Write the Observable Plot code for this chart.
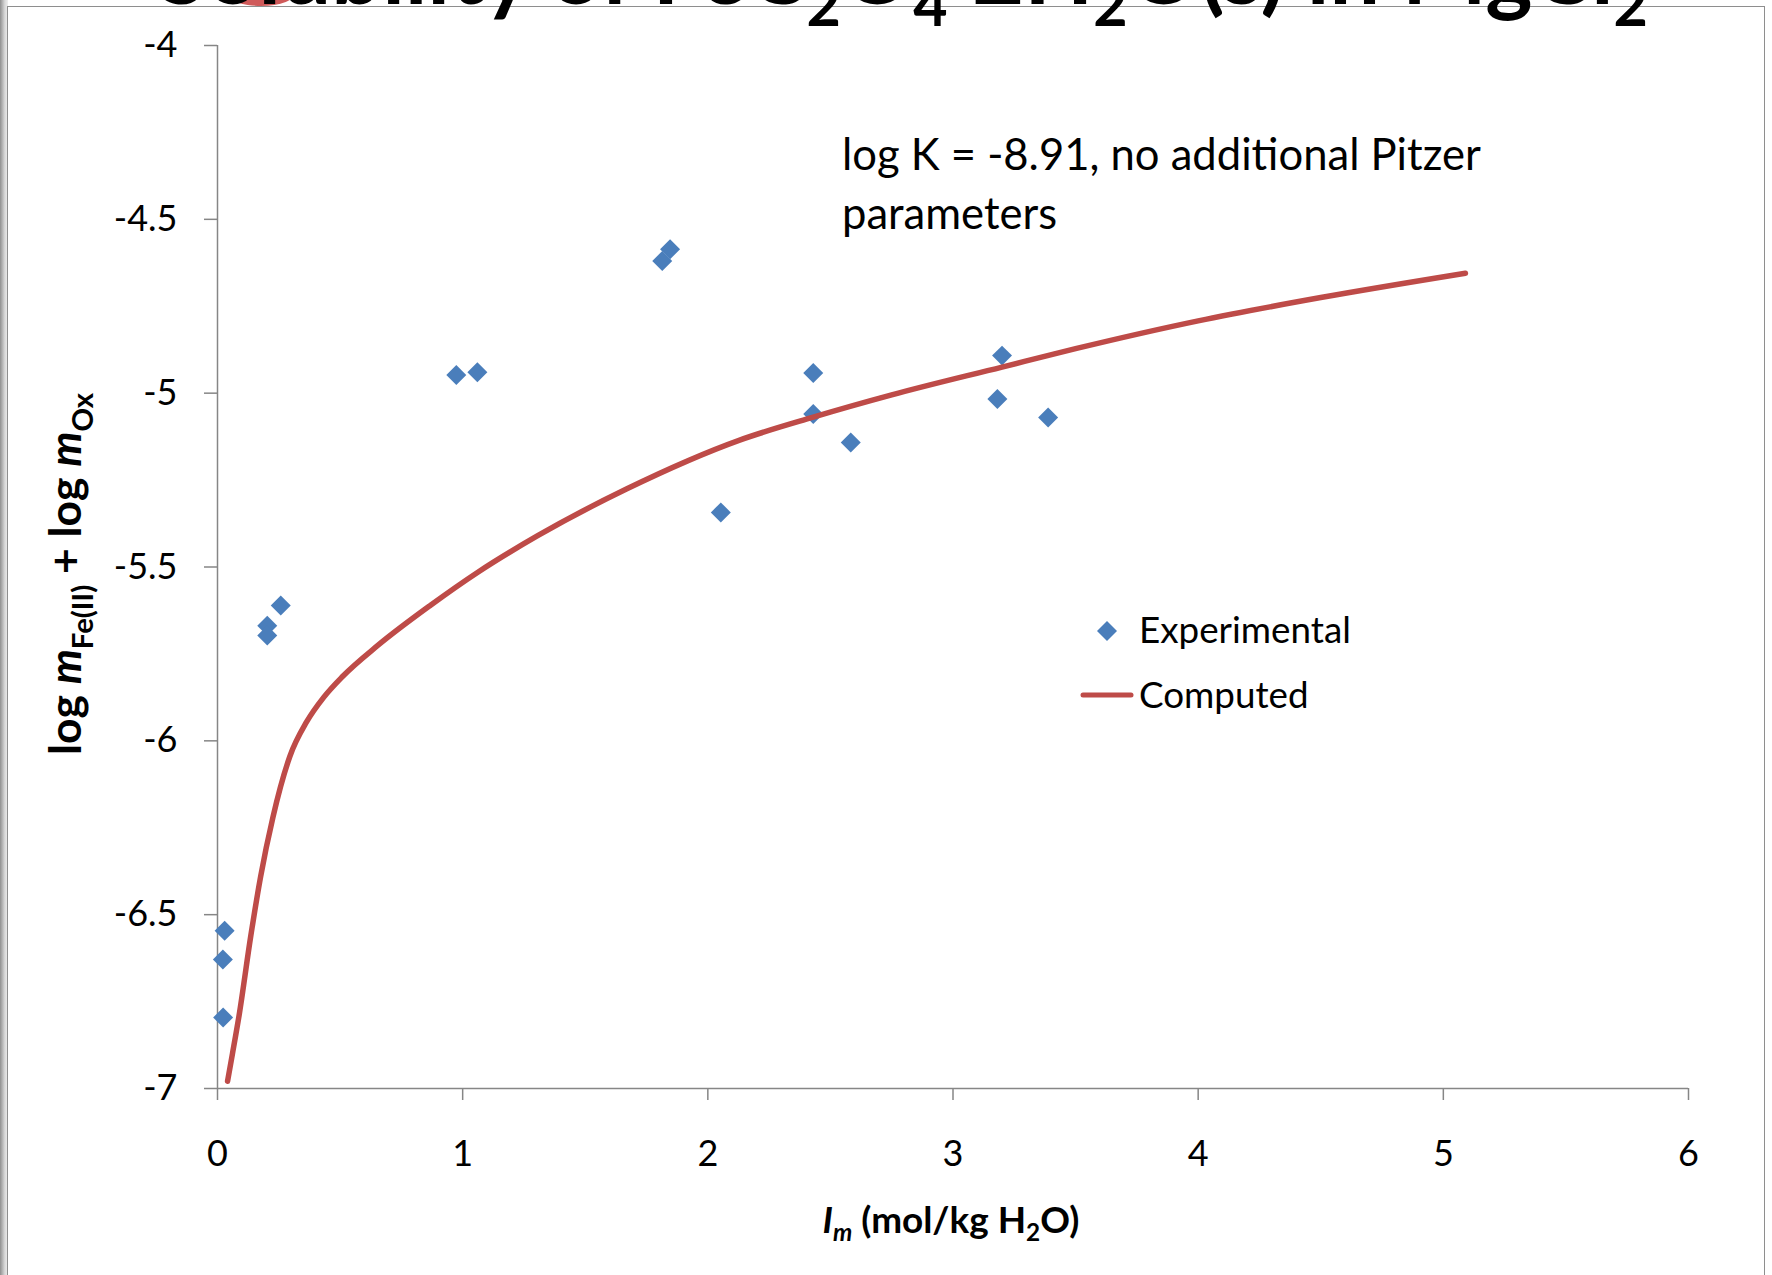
<!DOCTYPE html>
<html>
<head>
<meta charset="utf-8">
<script src="https://cdn.jsdelivr.net/npm/d3@7"></script>
<script src="https://cdn.jsdelivr.net/npm/@observablehq/plot@0.6"></script>
<style>
  html, body { margin: 0; padding: 0; background: #fff; }
  #wrap { position: relative; width: 1772px; height: 1275px; overflow: hidden; font-family: Lato, "Open Sans", sans-serif; background: #fff; }
  #leftstrip { position: absolute; left: 0; top: 0; width: 8px; height: 1275px; background: linear-gradient(to right, #8f8f8f, #d8d8d8 60%, #eeeeee); }
  #blob { position: absolute; left: 226px; top: -22px; width: 70px; height: 28px; border-radius: 50%; background: #cf5a5a; }
  #frame { position: absolute; left: 7px; top: 6px; width: 1756px; height: 1400px; border: 1.5px solid #8e8e8e; background: #fff; }
  #chart { position: absolute; left: 0; top: 0; }
  #over { position: absolute; left: 0; top: 0; }
</style>
</head>
<body>
<div id="wrap">
  <div id="leftstrip"></div>
  <div id="blob"></div>
  <div id="frame"></div>
  <div id="chart"></div>
</div>
<script>
// ---------------- data ----------------
const expI   = [0.029, 0.022, 0.023, 0.203, 0.203, 0.258, 0.974, 1.060, 1.814, 1.846, 2.053, 2.430, 2.430, 2.583, 3.181, 3.200, 3.388];
const expLog = [-6.546, -6.629, -6.796, -5.669, -5.697, -5.611, -4.948, -4.940, -4.620, -4.586, -5.343, -4.942, -5.060, -5.142, -5.017, -4.892, -5.070];

const calcI   = [0.041, 0.061, 0.088, 0.136, 0.176, 0.226, 0.295, 0.364, 0.433, 0.510, 0.655, 0.869, 1.062, 1.306, 1.670, 2.130, 2.430, 2.750, 3.200, 3.500, 4.000, 4.500, 5.090];
const calcLog = [-6.979, -6.900, -6.790, -6.560, -6.390, -6.220, -6.045, -5.945, -5.875, -5.815, -5.725, -5.610, -5.515, -5.410, -5.275, -5.135, -5.069, -5.005, -4.925, -4.872, -4.792, -4.725, -4.655];

const xTicks = [0, 1, 2, 3, 4, 5, 6];
const xTickLabels = ["0", "1", "2", "3", "4", "5", "6"];
const yTicks = [-7, -6.5, -6, -5.5, -5, -4.5, -4];
const yTickLabels = ["-7", "-6.5", "-6", "-5.5", "-5", "-4.5", "-4"];

const seriesNames = ["Experimental", "Computed"];
const noteLines = ["log K = -8.91, no additional Pitzer", "parameters"];

const expData = expI.map((v, i) => ({I: v, logm: expLog[i]}));
const calcData = calcI.map((v, i) => ({I: v, logm: calcLog[i]}));

// ---------------- chart ----------------
const axisGray = "#868686";
const chart = Plot.plot({
  width: 1772,
  height: 1275,
  marginLeft: 217,
  marginRight: 84,
  marginTop: 45,
  marginBottom: 187,
  style: {background: "transparent", fontFamily: "Lato, 'Open Sans', sans-serif", fontSize: "35px", overflow: "visible"},
  x: {domain: [xTicks[0], xTicks[xTicks.length - 1]]},
  y: {domain: [yTicks[0], yTicks[yTicks.length - 1]]},
  marks: [
    Plot.ruleX([xTicks[0]], {stroke: axisGray, strokeWidth: 1.5}),
    Plot.ruleY([yTicks[0]], {stroke: axisGray, strokeWidth: 1.5}),
    Plot.axisY({ticks: yTicks, tickSize: 13, tickPadding: 27, stroke: axisGray, strokeWidth: 1.5, fill: "#000", fontSize: 36,
      tickFormat: d => yTickLabels[yTicks.indexOf(d)], label: null}),
    Plot.axisX({ticks: xTicks, tickSize: 12, tickPadding: 40, stroke: axisGray, strokeWidth: 1.5, fill: "#000", fontSize: 36,
      tickFormat: d => xTickLabels[xTicks.indexOf(d)], label: null}),
    Plot.dot(expData, {x: "I", y: "logm", symbol: "diamond2", r: 9, fill: "#4A7EBB", stroke: "none"}),
    Plot.line(calcData, {x: "I", y: "logm", stroke: "#BE4B48", strokeWidth: 5.5, curve: "monotone-x", strokeLinecap: "round"})
  ]
});
document.getElementById("chart").appendChild(chart);

// ---------------- overlay texts (title, axis titles, note, legend) ----------------
const over = d3.select("#wrap").append("svg").attr("id", "over")
  .attr("width", 1772).attr("height", 1275)
  .style("font-family", "Lato, 'Open Sans', sans-serif");

function rich(parent, parts, fs, attrs, subScale, subShift) {
  const t = parent.append("text").attr("font-size", fs);
  for (const [k, v] of Object.entries(attrs)) t.attr(k, v);
  let shifted = false;
  for (const p of parts) {
    const ts = t.append("tspan").text(p.t);
    if (p.italic) ts.attr("font-style", "italic");
    if (p.sub) {
      ts.attr("font-size", fs * subScale);
      if (!shifted) { ts.attr("dy", fs * subShift); shifted = true; }
    } else if (shifted) {
      ts.attr("dy", -fs * subShift); shifted = false;
    }
  }
  return t;
}
function fitted(parent, parts, fs0, target, attrs, subScale, subShift) {
  const probe = rich(parent, parts, fs0, attrs, subScale, subShift);
  const w = probe.node().getComputedTextLength();
  probe.remove();
  const fs = fs0 * target / w;
  return {el: rich(parent, parts, fs, attrs, subScale, subShift), fs};
}

// Title (cut off at the top, as in the reference)
const titleParts = [
  {t: "Solubility of FeC"}, {t: "2", sub: true}, {t: "O"}, {t: "4", sub: true},
  {t: "·2H"}, {t: "2", sub: true}, {t: "O(s) in MgCl"}, {t: "2", sub: true}
];
fitted(over, titleParts, 80, 1490, {x: 158, y: 4, "font-weight": 700, fill: "#000"}, 0.66, 0.24);

// Y axis title
const yParts = [
  {t: "log "}, {t: "m", italic: true}, {t: "Fe(II)", sub: true}, {t: " + log "}, {t: "m", italic: true}, {t: "Ox", sub: true}
];
const yg = over.append("g").attr("transform", "translate(81,574) rotate(-90)");
fitted(yg, yParts, 30, 362, {x: 0, y: 0, "text-anchor": "middle", "font-weight": 700, fill: "#000"}, 0.66, 0.28);

// X axis title
const xParts = [
  {t: "I", italic: true}, {t: "m", italic: true, sub: true}, {t: " (mol/kg H"}, {t: "2", sub: true}, {t: "O)"}
];
fitted(over, xParts, 30, 257, {x: 951, y: 1233, "text-anchor": "middle", "font-weight": 700, fill: "#000"}, 0.66, 0.22);

// Note
const n1 = fitted(over, [{t: noteLines[0]}], 40, 639, {x: 842, y: 170, fill: "#000"}, 1, 0);
over.append("text").attr("x", 842).attr("y", 229).attr("font-size", n1.fs).attr("fill", "#000").text(noteLines[1]);

// Legend
const lg = fitted(over, [{t: seriesNames[0]}], 36, 212, {x: 1139, y: 643, fill: "#000"}, 1, 0);
over.append("text").attr("x", 1139).attr("y", 708).attr("font-size", lg.fs).attr("fill", "#000").text(seriesNames[1]);
over.append("path").attr("transform", "translate(1107,631)")
  .attr("d", d3.symbol(d3.symbolDiamond2, Math.PI * 81)()).attr("fill", "#4A7EBB");
over.append("line").attr("x1", 1083).attr("x2", 1131).attr("y1", 695).attr("y2", 695)
  .attr("stroke", "#BE4B48").attr("stroke-width", 5).attr("stroke-linecap", "round");
</script>
</body>
</html>
